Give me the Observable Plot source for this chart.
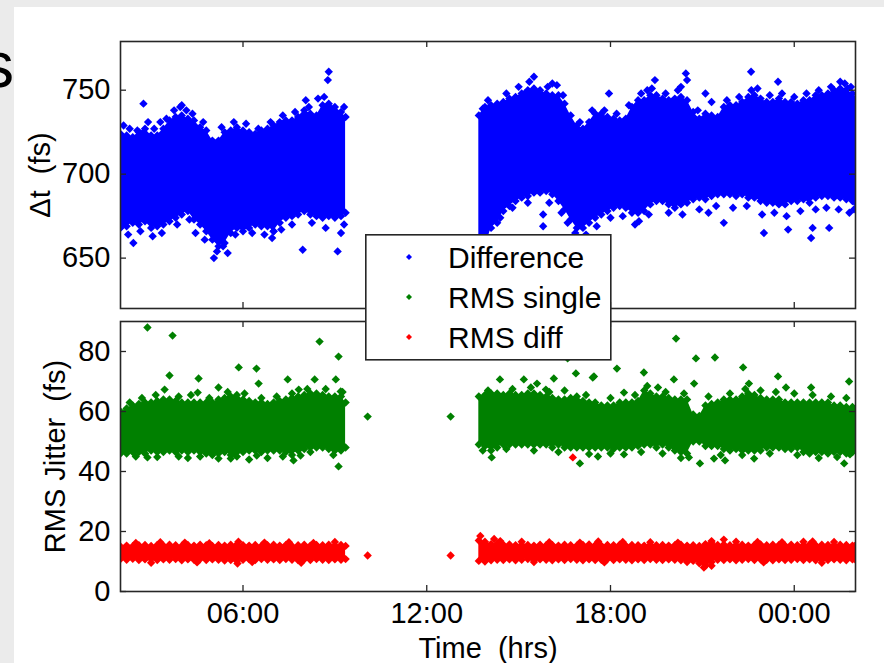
<!DOCTYPE html>
<html>
<head>
<meta charset="utf-8">
<script src="https://cdn.jsdelivr.net/npm/d3@7"></script>
<script src="https://cdn.jsdelivr.net/npm/@observablehq/plot@0.6"></script>
<style>
  html, body { margin: 0; padding: 0; }
  body {
    width: 884px; height: 663px; position: relative; overflow: hidden;
    background: #ebebeb;
    font-family: "Liberation Sans", Arial, Helvetica, sans-serif;
  }
  #sheet { position: absolute; left: 14px; top: 7px; right: 0; bottom: 0; background: #fff; }
  .layer { position: absolute; left: 0; }
  #cut { position: absolute; left: 0; top: 0; overflow: visible; }
  #legend { position: absolute; left: 365px; top: 234px; }
</style>
</head>
<body>
<div id="sheet"></div>
<svg id="cut" width="40" height="100"><text x="-18" y="87" font-size="64" fill="#000" font-family="Liberation Sans, Arial, sans-serif">s</text></svg>
<div id="top" class="layer" style="top:0"></div>
<div id="bottom" class="layer" style="top:310px"></div>
<svg id="legend" width="247" height="127"></svg>
<script>
// ---- time axis (hours since midnight of the first day) ----
const xTicks = [6, 12, 18, 24];
const xTickLabels = ["06:00", "12:00", "18:00", "00:00"];
const topTicks = [650, 700, 750];
const bottomTicks = [0, 20, 40, 60, 80];

const seriesNames = ["Difference", "RMS single", "RMS diff"];
const seriesColors = ["#0000ff", "#008000", "#ff0000"];

// sample times of the two recording runs (hours)
const run1Hours = [2.0,2.2,2.4,2.6,2.8,3.0,3.2,3.4,3.6,3.8, 4.0,4.2,4.4,4.6,4.8,5.0,5.2,5.4,5.6,5.8,
  6.0,6.2,6.4,6.6,6.8,7.0,7.2,7.4,7.6,7.8, 8.0,8.2,8.4,8.6,8.8,9.0,9.2,9.35];
const run2Hours = [13.7,13.9,14.1,14.3,14.5,14.7,14.9,15.1,15.3,15.5, 15.7,15.9,16.1,16.3,16.5,16.7,16.9,17.1,17.3,17.5,
  17.7,17.9,18.1,18.3,18.5,18.7,18.9,19.1,19.3,19.5, 19.7,19.9,20.1,20.3,20.5,20.7,20.9,21.1,21.3,21.5,
  21.7,21.9,22.1,22.3,22.5,22.7,22.9,23.1,23.3,23.5, 23.7,23.9,24.1,24.3,24.5,24.7,24.9,25.1,25.3,25.5,
  25.7,25.9,26.0];

// ---- Difference (Δt, fs): lower / upper edge of the dense cloud ----
const diffLo1 = [668,669,671,670,672,668,669,670,672,674, 676,678,673,670,666,661,657,659,665,668,
  666,668,670,669,669,666,671,674,675,676, 678,676,675,674,675,674,675,677];
const diffHi1 = [724,723,722,725,727,723,723,727,732,734, 735,733,732,728,726,720,720,725,726,728,
  726,725,724,726,727,729,731,732,732,734, 738,736,735,741,742,740,737,734];
const diffLo2 = [655,656,668,671,678,681,684,686,687,689, 689,690,688,684,679,673,668,668,671,674,
  676,678,680,681,680,677,677,678,682,684, 684,682,680,682,683,685,686,685,687,688,
  688,688,687,688,686,686,684,683,683,682, 682,684,684,685,683,686,687,687,686,686,
  685,684,683];
const diffHi2 = [735,740,741,742,743,745,746,748,750,751, 750,748,747,747,742,735,729,727,731,736,
  736,734,733,732,733,740,744,744,747,747, 745,744,745,746,744,737,733,736,735,734,
  740,741,741,743,746,747,745,743,743,745, 743,743,742,744,744,747,747,748,750,751,
  750,748,745];
// scattered samples outside the dense core: [hour, fs]
const diffScatter = [[2.1,729],[2.42,659],[2.75,742],[3.3,731],[3.95,740],[4.0,741],[4.45,665],[5.05,650],
  [5.5,653],[6.95,662],[7.0,666],[7.95,655],[8.05,744],[8.45,745],[8.77,756],[8.8,761],[9.09,654],[9.2,665],
  [2.3,727],[2.55,726],[2.9,731],[3.1,727],[3.5,733],[3.75,738],[4.15,738],[4.35,736],[4.7,731],[5.3,728],
  [5.7,731],[6.1,730],[6.5,727],[6.9,731],[7.3,735],[7.7,737],[8.15,740],[8.65,746],[9.3,740],
  [2.25,664],[2.65,666],[3.05,663],[3.35,665],[3.85,670],[4.25,673],[4.75,661],[5.15,654],[5.35,657],
  [5.75,664],[6.3,665],[6.7,664],[7.25,667],[7.6,670],[8.25,671],[8.7,668],[9.3,670],
  [13.83,739],[15.2,748],[15.5,758],[15.8,676],[15.8,669],[16.0,683],[16.1,754],[16.25,753],[17.95,748],
  [18.93,672],[19.2,750],[19.45,756],[20.3,752],[20.46,760],[20.5,756],[21.1,748],[21.2,677],[21.7,671],
  [22.59,761],[22.6,750],[23.01,665],[23.47,755],[23.8,667],[24.55,662],[24.6,668],[25.14,668],
  [25.5,755],[25.75,751],[25.95,679],
  [14.0,744],[14.6,748],[15.0,752],[15.35,755],[15.95,752],[16.45,747],[17.0,731],[17.4,738],[17.8,738],
  [18.2,736],[18.6,741],[19.0,748],[19.35,751],[19.8,748],[20.2,750],[20.85,738],[21.3,743],[21.8,744],
  [22.2,746],[22.8,751],[23.2,747],[23.6,748],[24.0,746],[24.4,748],[24.8,750],[25.2,752],[25.65,754],
  [25.85,752],
  [14.4,674],[14.8,680],[15.3,683],[16.4,677],[16.6,671],[16.85,665],[17.2,664],[17.55,669],[18.0,674],
  [18.4,675],[18.8,670],[19.25,676],[19.9,677],[20.35,676],[20.9,679],[21.45,681],[22.0,680],[22.45,681],
  [22.95,676],[23.35,677],[23.75,675],[24.2,678],[24.7,679],[25.05,680],[25.45,679],[25.8,677]];

// ---- RMS single (fs) ----
const singleLo1 = [46,46,46.5,46.5,46,47,46.5,46.5,47,46.5, 47,46.5,47,46.5,46,45.5,46,46.5,45.5,45,
  46.5,47,47,46.5,47,47,47,46.5,45.5,47, 47.5,48,48,48,47.5,47,47,48];
const singleHi1 = [60,61,62,62.5,63,63,63.5,64,64,63.5, 63,63,63,63,63,63,64,64.5,65,65.5,
  64,63.5,63,63,62.5,63,63.5,64,64.5,65, 65.5,66,66,65.5,65,65,65,63];
const singleLo2 = [49,48.5,47,48,49,49,49,49,49,49, 49,49,48,49,48,48,48,48,48,48,
  48,48,47.5,48,48,48,48.5,49,49,48, 49,48,47,46.5,46,50,50,48.5,48.5,48.5,
  47.5,47,47.5,47,47,47,47,48,48,48, 47.5,47.5,48,46.5,46,46.5,46.5,46,46.5,46.5,
  46,46.5,47];
const singleHi2 = [65,65.5,66,66,65.5,66,65.5,65.5,66,66, 65.5,65,64.5,64,64,64.5,65,63.5,63,63,
  62,62,62,63,63,63,63.5,67,66,65, 65,64.5,64,64,64,59,58.5,62,62.5,63,
  64,64,64,65,66,65.5,64.5,64,64,64, 63,63,63,63,63,63,63,63,62,62,
  61.5,61.5,61];
const singleScatter = [[2.88,88],[3.7,85.3],[3.6,72],[3.44,67.3],[4.55,71],[4.52,66.3],[5.2,68],[5.86,74.7],
  [6.44,74.3],[6.51,69.3],[7.46,70.7],[7.82,67.3],[8.5,83.3],[9.12,78.3],[8.34,70.7],[9.03,70.7],[9.19,66.7],
  [7.88,45.3],[7.65,43.7],[9.12,41.7],[2.88,44.7],[5.2,44.3],[4.2,44.5],[6.2,44],[6.8,44.5],[3.9,45],
  [2.3,63],[2.7,64.5],[3.15,65.5],[3.9,65],[4.3,65.5],[4.9,64.5],[5.5,66.5],[6.05,66],[6.6,64.5],[7.1,65],
  [7.6,66],[8.1,67.5],[8.7,67.5],[9.25,66.5],
  [2.5,45],[3.2,44.8],[4.6,45],[5.6,44.3],[6.45,45.3],[7.3,45],[8.2,46.5],[8.95,45.5],
  [10.07,58.3],[12.78,58.3],
  [14.39,70.7],[15.17,70.7],[15.6,69.3],[16.15,71],[15.89,67.3],[16.87,72.7],[17.42,71.3],[16.6,77.7],
  [14.12,44.7],[13.83,47],[17.0,42.7],[20.14,84.3],[20.79,77.7],[21.41,78],[17.46,71.7],[18.21,74.3],
  [19.09,73],[20.07,70.7],[20.73,69.3],[22.33,74.7],[23.47,71.7],[23.73,68],[24.55,68],[25.79,70],
  [22.52,69.3],[18.44,66.3],[19.55,68],[17.59,45],[18.44,45.7],[20.92,42.7],[21.38,44.3],[21.74,43.7],
  [22.69,44.3],[25.63,42.7],[25.82,45.7],[20.56,44.7],
  [14.0,67],[14.8,67.5],[15.4,68],[16.0,66.5],[16.5,67],[17.2,65.5],[18.0,64.5],[18.8,65.5],[19.2,68.5],
  [19.8,66.5],[20.4,66],[21.2,65],[21.9,66],[22.4,67.5],[22.9,67],[23.4,66.5],[24.0,66],[24.6,65.5],
  [25.2,65],[25.7,64.5],
  [14.6,47.5],[15.5,47],[16.3,46.5],[17.3,45.8],[18.0,46],[19.0,46.5],[19.7,46],[20.3,44.5],[21.6,45.5],
  [22.3,45.5],[23.2,46],[24.1,45.5],[24.8,44.5],[25.4,44.8]];

// ---- RMS diff (fs) ----
const rmsDiffLo1 = [10.8,10.6,10.9,10.5,10.7,10.8,10.5,10.7,10.6,10.8, 10.4,10.7,10.6,10.8,10.5,10.7,10.6,10.3,10.5,10.2,
  10.6,10.7,10.5,10.8,10.6,10.7,10.5,10.8,10.6,10.4, 10.7,10.5,10.8,10.6,10.5,10.7,10.6,10.8];
const rmsDiffHi1 = [15.0,15.3,15.1,15.4,15.5,15.2,15.5,15.3,15.6,15.4, 15.2,15.5,15.3,15.6,15.4,15.2,15.5,15.3,15.6,15.7,
  15.4,15.3,15.5,15.2,15.4,15.6,15.3,15.5,15.2,15.4, 15.6,15.3,15.5,15.4,15.6,15.3,15.5,15.2];
const rmsDiffLo2 = [10.2,10.0,10.4,10.6,10.5,10.7,10.4,10.6,10.8,10.5, 10.7,10.6,10.4,10.7,10.5,10.8,10.6,10.4,10.7,10.5,
  10.6,10.8,10.5,10.7,10.6,10.4,10.7,10.5,10.8,10.6, 10.5,10.7,10.6,10.4,10.5,10.2,9.4,8.6,9.8,10.6,
  10.5,10.7,10.4,10.6,10.8,10.5,10.7,10.6,10.4,10.7, 10.5,10.6,10.8,10.5,10.7,10.4,10.6,10.5,10.7,10.6,
  10.4,10.7,10.6];
const rmsDiffHi2 = [17.0,16.6,15.8,15.9,15.6,15.7,15.4,15.6,15.5,15.3, 15.6,15.4,15.5,15.3,15.6,15.4,15.3,15.5,15.7,15.4,
  15.3,15.5,15.4,15.6,15.3,15.5,15.4,15.3,15.6,15.4, 15.5,15.3,15.4,15.6,15.3,15.4,15.2,15.8,16.2,15.5,
  15.7,15.4,15.5,15.6,15.3,15.5,15.7,15.4,15.6,15.5, 15.3,15.6,15.4,15.5,15.7,15.4,15.6,15.5,15.4,15.6,
  15.5,15.3,15.4];
const rmsDiffScatter = [[5.82,9.3],[10.07,12],[12.78,12],[13.75,18.5],[14.4,16.8],[16.77,44.7],[17.6,16.7],
  [21.05,8],[21.1,9.2],[21.7,17.3],[22.1,16.6],[24.6,16.7],
  [2.5,16.2],[3.3,16.4],[4.1,16.3],[4.9,16.1],[5.85,16.6],[6.7,16.3],[7.5,16.4],[8.3,16.2],[9.0,16.5],
  [14.2,17.5],[15.1,16.6],[16.0,16.4],[17.0,16.3],[18.4,16.5],[19.3,16.4],[20.2,16.3],[21.3,16.8],
  [22.8,16.5],[23.6,16.4],[24.3,16.6],[25.3,16.5],
  [3.0,9.6],[4.5,9.7],[6.3,9.8],[7.9,9.6],[15.5,9.8],[17.8,9.7],[20.5,9.8],[21.3,8.6],[23.0,9.7],[24.9,9.6]];

// ---- helpers ----
const font = "Liberation Sans, Arial, Helvetica, sans-serif";
const axisColor = "#262626";
const markerR = 4.2;
// square rhombus marker (equal width and height)
const diamond = {
  draw(context, size) {
    const h = Math.sqrt(size / Math.PI);
    context.moveTo(0, -h); context.lineTo(h, 0); context.lineTo(0, h); context.lineTo(-h, 0); context.closePath();
  }
};

function band(lo1, hi1, lo2, hi2) {
  return [
    ...run1Hours.map((t, i) => ({t, lo: lo1[i], hi: hi1[i], run: 1})),
    ...run2Hours.map((t, i) => ({t, lo: lo2[i], hi: hi2[i], run: 2}))
  ];
}
function cloud(data, scatter, color) {
  const dot = {symbol: diamond, r: markerR, fill: color, clip: true};
  return [
    Plot.areaY(data, {x: "t", y1: "lo", y2: "hi", z: "run", fill: color, clip: true}),
    Plot.dot(data, {x: "t", y: "lo", ...dot}),
    Plot.dot(data, {x: "t", y: "hi", ...dot}),
    Plot.dot(scatter, {x: d => d[0], y: d => d[1], ...dot})
  ];
}
function frameTicks(yTicks, frameW, frameH) {
  const s = {stroke: axisColor, strokeWidth: 1.3};
  return [
    Plot.tickX(xTicks, {x: d => d, insetTop: frameH - 6, ...s}),
    Plot.tickX(xTicks, {x: d => d, insetBottom: frameH - 6, ...s}),
    Plot.tickY(yTicks, {y: d => d, insetRight: frameW - 6, ...s}),
    Plot.tickY(yTicks, {y: d => d, insetLeft: frameW - 6, ...s}),
    Plot.frame({stroke: axisColor, strokeWidth: 1.6})
  ];
}
function yTitle(label, dx) {
  return Plot.text([label], {frameAnchor: "left", dx, rotate: -90, text: d => d, fontSize: 29,
    textAnchor: "middle", lineAnchor: "middle", fill: "#000"});
}

const diffBand = band(diffLo1, diffHi1, diffLo2, diffHi2);
const singleBand = band(singleLo1, singleHi1, singleLo2, singleHi2);
const rmsDiffBand = band(rmsDiffLo1, rmsDiffHi1, rmsDiffLo2, rmsDiffHi2);

const W = 884, mL = 120, mR = 29;
const style = {background: "transparent", color: "#000", fontFamily: font, overflow: "visible"};

// ---- upper panel: Δt ----
const topH = 320, topMT = 41, topMB = 12;
const topPlot = Plot.plot({
  width: W, height: topH, marginLeft: mL, marginRight: mR, marginTop: topMT, marginBottom: topMB,
  style,
  x: {domain: [2, 26], axis: null},
  y: {domain: [620, 779]},
  marks: [
    ...cloud(diffBand, diffScatter, seriesColors[0]),
    ...frameTicks(topTicks, W - mL - mR, topH - topMT - topMB),
    Plot.axisY({ticks: topTicks, tickSize: 0, tickPadding: 10, fontSize: 29, label: null}),
    yTitle("\u0394t\u00a0 (fs)", -80)
  ]
});
document.getElementById("top").appendChild(topPlot);

// ---- lower panel: RMS jitter ----
const botH = 353, botMT = 11, botMB = 72;
const bottomPlot = Plot.plot({
  width: W, height: botH, marginLeft: mL, marginRight: mR, marginTop: botMT, marginBottom: botMB,
  style,
  x: {domain: [2, 26]},
  y: {domain: [0, 90]},
  marks: [
    ...cloud(singleBand, singleScatter, seriesColors[1]),
    ...cloud(rmsDiffBand, rmsDiffScatter, seriesColors[2]),
    ...frameTicks(bottomTicks, W - mL - mR, botH - botMT - botMB),
    Plot.axisY({ticks: bottomTicks, tickSize: 0, tickPadding: 10, fontSize: 29, label: null}),
    Plot.axisX({ticks: xTicks, tickFormat: d => xTickLabels[xTicks.indexOf(d)], tickSize: 0,
      tickPadding: 11, fontSize: 29, label: null}),
    yTitle("RMS Jitter\u00a0 (fs)", -65),
    Plot.text(["Time\u00a0 (hrs)"], {frameAnchor: "bottom", dy: 57, text: d => d,
      fontSize: 29, textAnchor: "middle", lineAnchor: "middle", fill: "#000"})
  ]
});
document.getElementById("bottom").appendChild(bottomPlot);

// ---- legend box ----
const lg = d3.select("#legend");
lg.append("rect").attr("x", 0.8).attr("y", 0.8).attr("width", 245).attr("height", 125)
  .attr("fill", "#fff").attr("stroke", axisColor).attr("stroke-width", 1.6);
const legendSymbol = d3.symbol(diamond, Math.PI * 3 * 3);
seriesNames.forEach((name, i) => {
  const g = lg.append("g").attr("transform", `translate(0,${23 + 40 * i})`);
  g.append("path").attr("d", legendSymbol()).attr("transform", "translate(44,0)").attr("fill", seriesColors[i]);
  g.append("text").attr("x", 83).attr("dy", "0.36em").attr("font-size", 30)
    .attr("font-family", font).attr("fill", "#000").text(name);
});
</script>
</body>
</html>
